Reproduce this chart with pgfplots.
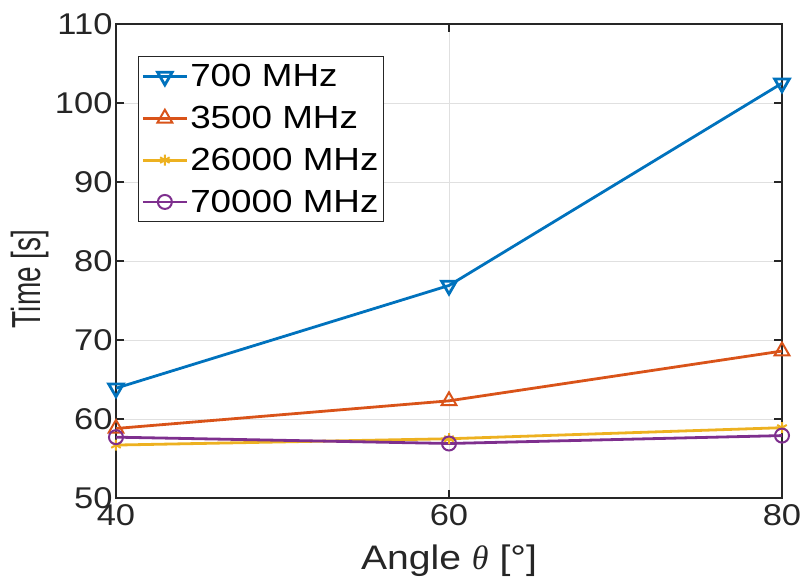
\documentclass[border=0pt]{standalone}
\usepackage{fontspec}
\setmainfont[FakeStretch=1.15]{Liberation Sans}
\newfontfamily\uprightsans{Liberation Sans}
\newfontfamily\greekfont{Liberation Serif}
\usepackage{pgfplots}
\pgfplotsset{compat=1.18}
\usetikzlibrary{calc}

\definecolor{mblue}{rgb}{0,0.447,0.741}
\definecolor{morange}{rgb}{0.850,0.325,0.098}
\definecolor{myellow}{rgb}{0.929,0.694,0.125}
\definecolor{mpurple}{rgb}{0.494,0.184,0.556}
\definecolor{axisgray}{rgb}{0.15,0.15,0.15}

\begin{document}
\begin{tikzpicture}
\begin{axis}[
  scale only axis,
  width=666pt, height=474pt,
  xmin=40, xmax=80, ymin=50, ymax=110,
  xtick={40,60,80}, ytick={50,60,...,110},
  tick align=inside, major tick length=8pt,
  grid=major,
  grid style={line width=0.8pt, color=black!12},
  axis line style={line width=1.1pt, color=axisgray},
  tick style={line width=1.1pt, color=axisgray},
  /pgf/number format/assume math mode=true,
  ticklabel style={font=\fontsize{30}{34}\selectfont, color=axisgray},
  xticklabel style={yshift=-3pt},
  xlabel={Angle {\greekfont\itshape θ} [°]},
  ylabel={\scalebox{1}[1.45]{\uprightsans Time [s]}},
  every axis x label/.style={at={(axis description cs:0.5,0)}, yshift=-63pt, anchor=center, font=\fontsize{34}{38}\selectfont, color=axisgray},
  every axis y label/.style={at={(axis description cs:0,0.5)}, xshift=-86pt, yshift=-18pt, rotate=90, anchor=center, font=\fontsize{28}{32}\selectfont, color=axisgray},
  legend style={
    at={(rel axis cs:0.033,0.9325)}, anchor=north west,
    draw=axisgray, line width=1pt,
    font=\fontsize{32}{36}\selectfont,
    inner xsep=3pt, inner ysep=6pt, row sep=14pt,
    cells={anchor=west},
  },
  legend image code/.code={
    \draw[mark repeat=2, mark phase=2] plot coordinates {(0pt,0pt) (22pt,0pt) (44pt,0pt)};
  },
  every axis plot/.append style={line width=2.8pt, mark options={solid, line width=2pt}},
]
\addplot[color=mblue, mark=triangle, mark size=8.5pt, mark options={rotate=180}]
  coordinates {(40,63.9) (60,76.9) (80,102.5)};
\addlegendentry{700 MHz}
\addplot[color=morange, mark=triangle, mark size=8.5pt]
  coordinates {(40,58.8) (60,62.3) (80,68.6)};
\addlegendentry{3500 MHz}
\addplot[color=myellow, mark=asterisk, mark size=5.5pt]
  coordinates {(40,56.7) (60,57.5) (80,58.9)};
\addlegendentry{26000 MHz}
\addplot[color=mpurple, mark=o, mark size=7pt]
  coordinates {(40,57.7) (60,56.9) (80,57.9)};
\addlegendentry{70000 MHz}
\end{axis}
\pgfresetboundingbox
\path[use as bounding box] ($(current axis.south west)+(-116pt,-82pt)$) rectangle ++(800pt,580pt);
\end{tikzpicture}
\end{document}
